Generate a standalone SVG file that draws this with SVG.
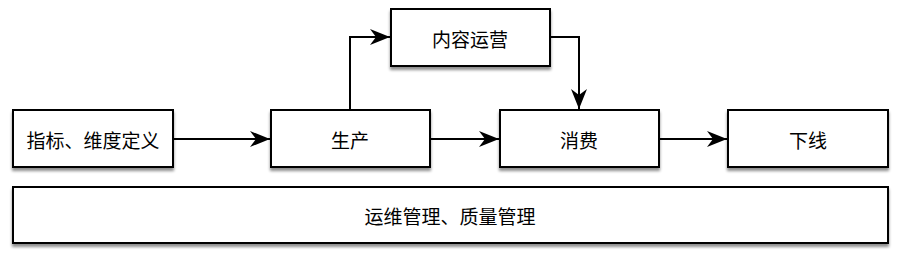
<svg xmlns="http://www.w3.org/2000/svg" width="899" height="258" viewBox="0 0 899 258">
<defs>
<filter id="sh" x="-5%" y="-20%" width="110%" height="150%">
<feGaussianBlur in="SourceAlpha" stdDeviation="1.5"/>
<feOffset dx="0" dy="3" result="b"/>
<feComponentTransfer><feFuncA type="linear" slope="0.45"/></feComponentTransfer>
<feMerge><feMergeNode/><feMergeNode in="SourceGraphic"/></feMerge>
</filter>
<marker id="ah" markerUnits="userSpaceOnUse" markerWidth="22" markerHeight="18" refX="20" refY="9" orient="auto">
<path d="M0,1 L20,9 L0,17 L6,9 Z" fill="#000"/>
</marker>
</defs>
<style>
.box{fill:#fff;stroke:#000;stroke-width:2;filter:url(#sh)}
.lbl{font-family:"Noto Sans CJK SC","Noto Sans",sans-serif;font-size:19px;fill:#000;text-anchor:middle;dominant-baseline:central}
.con{fill:none;stroke:#000;stroke-width:2;marker-end:url(#ah)}
</style>
<g id="n1"><rect class="box" x="13" y="110" width="160" height="57"/><text class="lbl" x="93" y="139">指标、维度定义</text></g>
<g id="n2"><rect class="box" x="271" y="110" width="159" height="57"/><text class="lbl" x="350" y="139">生产</text></g>
<g id="n3"><rect class="box" x="391" y="9" width="159" height="57"/><text class="lbl" x="470" y="38">内容运营</text></g>
<g id="n4"><rect class="box" x="500" y="110" width="159" height="57"/><text class="lbl" x="579" y="139">消费</text></g>
<g id="n5"><rect class="box" x="728" y="110" width="160" height="57"/><text class="lbl" x="808" y="139">下线</text></g>
<g id="n6"><rect class="box" x="13" y="187" width="875" height="56"/><text class="lbl" x="450" y="215">运维管理、质量管理</text></g>
<g id="connectors">
<path class="con" d="M173,139 H270"/>
<path class="con" d="M350,110 V37 H390"/>
<path class="con" d="M550,37 H579 V109"/>
<path class="con" d="M430,139 H499"/>
<path class="con" d="M659,139 H727"/>
</g>
</svg>
